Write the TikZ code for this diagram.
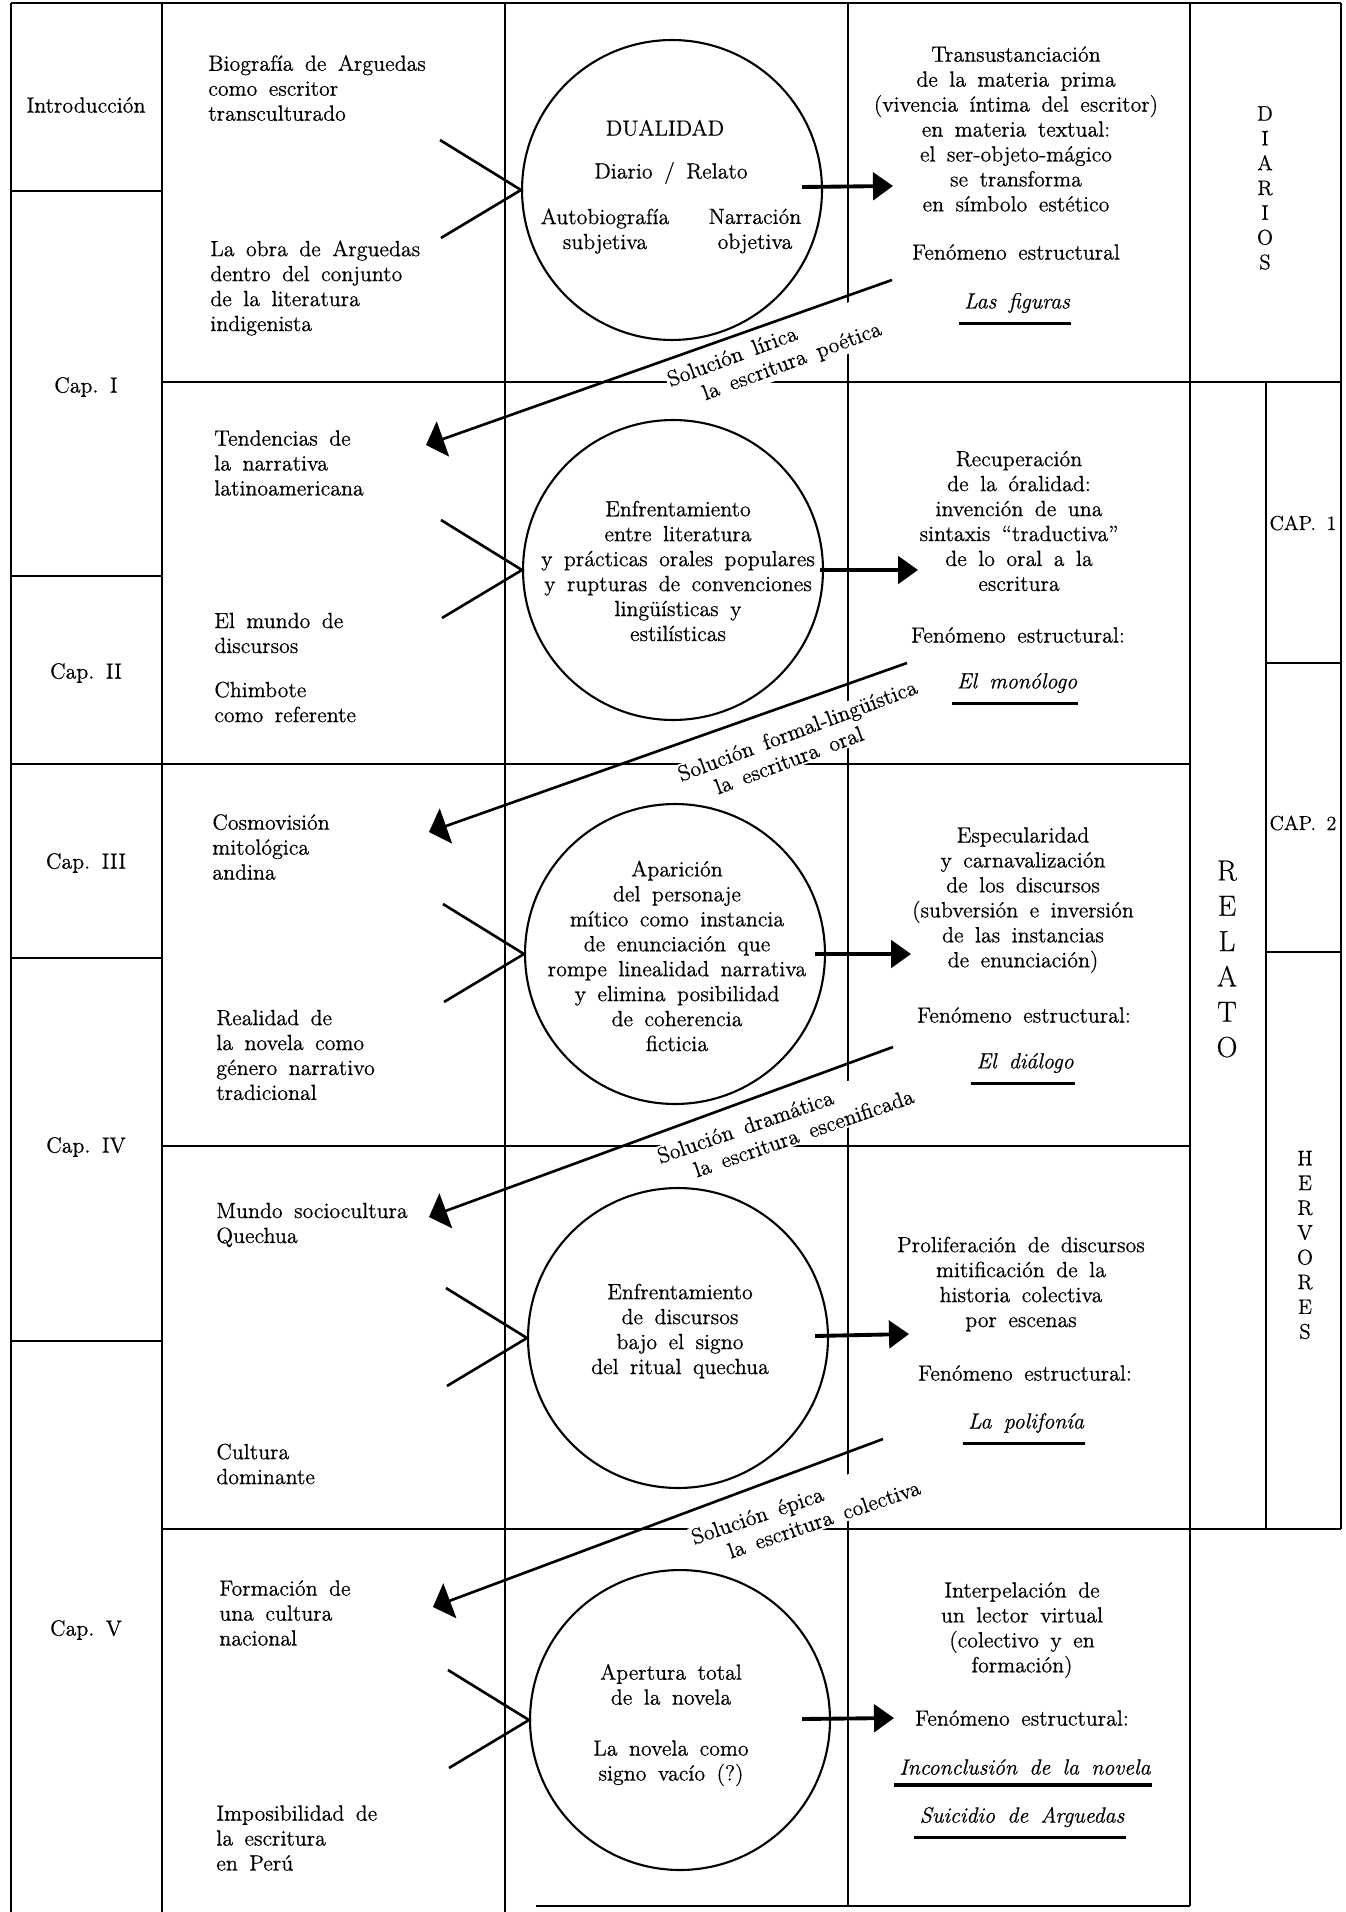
\documentclass[tikz,border=0pt]{standalone}
\usepackage{fontspec}
\setmainfont{Latin Modern Roman}[WordSpace=1.6,FakeBold=0.6]
\usetikzlibrary{arrows.meta,calc,positioning}
\begin{document}
\begin{tikzpicture}[x=0.02cm,y=-0.02cm,
  grid/.style={line width=1.5pt},
  ring/.style={draw,circle,line width=1.2pt,minimum size=6cm,inner sep=0pt},
  txt/.style={inner sep=0pt,font=\fontsize{12.5}{14.2}\selectfont},
  lft/.style={txt,anchor=west,align=left},
  ctr/.style={txt,align=center},
  fig/.style={txt,font=\fontsize{12.5}{14.2}\selectfont\itshape},
  letters/.style={inner sep=0pt,align=center,font=\fontsize{12}{14.1}\selectfont},
  sol/.style={txt,anchor=west,align=left,fill=white,inner sep=1pt},
  xline/.style={line width=1.5pt},
  rarr/.style={line width=2.2pt,-{Triangle[length=0.4cm,width=0.55cm]}},
  sarr/.style={line width=1.5pt,-{Triangle[length=0.36cm,width=0.74cm]}},
  uline/.style={line width=1.9pt}]
\useasboundingbox (0,0) rectangle (1345,1912);

\draw[grid] (11,3) -- (1341,3);
\draw[grid] (11,3) -- (11,1912);
\draw[grid] (162,3) -- (162,1912);
\draw[grid] (505,3) -- (505,1912);
\draw[grid] (848,3) -- (848,1906);
\draw[grid] (1190,3) -- (1190,1906);
\draw[grid] (1341,3) -- (1341,1529);
\draw[grid] (1266,382) -- (1266,1529);
\draw[grid] (11,191) -- (162,191);
\draw[grid] (162,382) -- (1341,382);
\draw[grid] (11,576) -- (162,576);
\draw[grid] (11,764) -- (1190,764);
\draw[grid] (11,958) -- (162,958);
\draw[grid] (162,1146) -- (1190,1146);
\draw[grid] (11,1341) -- (162,1341);
\draw[grid] (162,1529) -- (1341,1529);
\draw[grid] (536,1906) -- (1190,1906);
\draw[grid] (1266,663) -- (1341,663);
\draw[grid] (1266,952) -- (1341,952);

\node[sol,rotate=20.4] (sol1) at (671,394) {Solución lírica\\\hspace*{0.56cm}la escritura poética};
\node[sol,rotate=20.5] (sol2) at (681,787) {Solución formal-lingüística\\\hspace*{0.6cm}la escritura oral};
\node[sol,rotate=19] (sol3) at (660,1169) {Solución dramática\\\hspace*{0.6cm}la escritura escenificada};
\node[sol,rotate=18.8] (sol4) at (694,1550) {Solución épica\\\hspace*{0.6cm}la escritura colectiva};

\node[txt] (intro) at (86,105) {Introducción};
\node[txt] (cap1) at (86,387) {Cap.\ I};
\node[txt] (cap2) at (86,673) {Cap.\ II};
\node[txt] (cap3) at (86,863) {Cap.\ III};
\node[txt] (cap4) at (86,1147) {Cap.\ IV};
\node[txt] (cap5) at (86,1630) {Cap.\ V};

\node[lft] (bio) at (208,88) {Biografía de Arguedas\\como escritor\\transculturado};
\node[lft] (obra) at (210,288) {La obra de Arguedas\\dentro del conjunto\\de la literatura\\indigenista};
\node[lft] (tend) at (214,463) {Tendencias de\\la narrativa\\latinoamericana};
\node[lft] (mundo) at (214,633) {El mundo de\\discursos};
\node[lft] (chim) at (214,702) {Chimbote\\como referente};
\node[lft] (cosmo) at (212,847) {Cosmovisión\\mitológica\\andina};
\node[lft] (real) at (216,1055) {Realidad de\\la novela como\\género narrativo\\tradicional};
\node[lft] (socio) at (216,1225) {Mundo sociocultura\\Quechua};
\node[lft] (cult) at (216,1464) {Cultura\\dominante};
\node[lft] (form) at (219,1613) {Formación de\\una cultura\\nacional};
\node[lft] (impo) at (216,1838) {Imposibilidad de\\la escritura\\en Perú};

\node[ring] (c1) at (672,190) {};
\node[ring] (c2) at (673,570) {};
\node[ring] (c3) at (675,954) {};
\node[ring] (c4) at (678,1338) {};
\node[ring] (c5) at (680,1720) {};

\node[txt] (dual) at (665,128) {DUALIDAD};
\node[txt] (diar) at (671,173) {Diario / Relato};
\node[ctr] (auto) at (605,231) {Autobiografía\\subjetiva};
\node[ctr] (narr) at (755,231) {Narración\\objetiva};
\node[ctr] (enf1) at (678,571) {Enfrentamiento\\entre literatura\\y prácticas orales populares\\y rupturas de convenciones\\lingüísticas y\\estilísticas};
\node[ctr] (apar) at (677,956) {Aparición\\del personaje\\mítico como instancia\\de enunciación que\\rompe linealidad narrativa\\y elimina posibilidad\\de coherencia\\ficticia};
\node[ctr] (enf2) at (680,1331) {Enfrentamiento\\de discursos\\bajo el signo\\del ritual quechua};
\node[ctr] (aper) at (671,1725) {Apertura total\\de la novela\\[0.52cm]La novela como\\signo vacío (?)};

\node[ctr] (r1) at (1016,129) {Transustanciación\\de la materia prima\\(vivencia íntima del escritor)\\en materia textual:\\el ser-objeto-mágico\\se transforma\\en símbolo estético};
\node[txt] (fen1) at (1016,252) {Fenómeno estructural};
\node[fig] (fig1) at (1017,303) {Las figuras};
\node[ctr] (r2) at (1019,521) {Recuperación\\de la óralidad:\\invención de una\\sintaxis “traductiva”\\de lo oral a la\\escritura};
\node[txt] (fen2) at (1018,635) {Fenómeno estructural:};
\node[fig] (fig2) at (1017,683) {El monólogo};
\node[ctr] (r3) at (1023,900) {Especularidad\\y carnavalización\\de los discursos\\(subversión e inversión\\de las instancias\\de enunciación)};
\node[txt] (fen3) at (1024,1015) {Fenómeno estructural:};
\node[fig] (fig3) at (1025,1063) {El diálogo};
\node[ctr] (r4) at (1021,1284) {Proliferación de discursos\\mitificación de la\\historia colectiva\\por escenas};
\node[txt] (fen4) at (1025,1373) {Fenómeno estructural:};
\node[fig] (fig4) at (1026,1423) {La polifonía};
\node[ctr] (r5) at (1022,1630) {Interpelación de\\un lector virtual\\(colectivo y en\\formación)};
\node[txt] (fen5) at (1022,1718) {Fenómeno estructural:};
\node[fig] (fig5) at (1025,1767) {Inconclusión de la novela};
\node[fig] (fig6) at (1022,1817) {Suicidio de Arguedas};

\node[letters] (diarios) at (1265,188) {D\\I\\A\\R\\I\\O\\S};
\node[letters,font=\fontsize{16.5}{20.1}\selectfont] (relato) at (1227,959) {R\\E\\L\\A\\T\\O};
\node[letters] (hervores) at (1305,1245) {H\\E\\R\\V\\O\\R\\E\\S};
\node[letters,font=\fontsize{11.5}{14}\selectfont] (capa) at (1303,523) {CAP.\ 1};
\node[letters,font=\fontsize{11.5}{14}\selectfont] (capb) at (1303,823) {CAP.\ 2};

\foreach \c in {c1,c2,c3,c4,c5}
  \draw[xline] ($(\c.west)+(-81,-50)$) -- (\c.west) -- ($(\c.west)+(-80,48)$);

\coordinate (a1) at (893,186);
\coordinate (a2) at (918,570);
\coordinate (a3) at (911,954);
\coordinate (a4) at (909,1334);
\coordinate (a5) at (894,1718);
\draw[rarr] ($(c1.east)+(-21,-3)$) -- (a1);
\draw[rarr] ($(c2.east)+(-4,0)$) -- (a2);
\draw[rarr] ($(c3.east)+(-11,0)$) -- (a3);
\draw[rarr] ($(c4.east)+(-14,-2)$) -- (a4);
\draw[rarr] ($(c5.east)+(-29,-1)$) -- (a5);

\coordinate (s1) at (892,280);
\coordinate (t1) at (426,445);
\coordinate (s2) at (907,663);
\coordinate (t2) at (429,832);
\coordinate (s3) at (893,1047);
\coordinate (t3) at (429,1217);
\coordinate (s4) at (883,1439);
\coordinate (t4) at (433,1607);
\draw[sarr] (s1) -- (t1);
\draw[sarr] (s2) -- (t2);
\draw[sarr] (s3) -- (t3);
\draw[sarr] (s4) -- (t4);

\draw[uline] ($(fig1.south west)+(-5,10)$) -- ($(fig1.south east)+(1,10)$);
\draw[uline] ($(fig2.south west)+(-5,10)$) -- ($(fig2.south east)+(1,10)$);
\draw[uline] ($(fig3.south west)+(-5,10)$) -- ($(fig3.south east)+(1,10)$);
\draw[uline] ($(fig4.south west)+(-5,10)$) -- ($(fig4.south east)+(1,10)$);
\draw[uline] ($(fig5.south west)+(-5,10)$) -- ($(fig5.south east)+(1,10)$);
\draw[uline] ($(fig6.south west)+(-5,10)$) -- ($(fig6.south east)+(1,10)$);
\end{tikzpicture}
\end{document}
